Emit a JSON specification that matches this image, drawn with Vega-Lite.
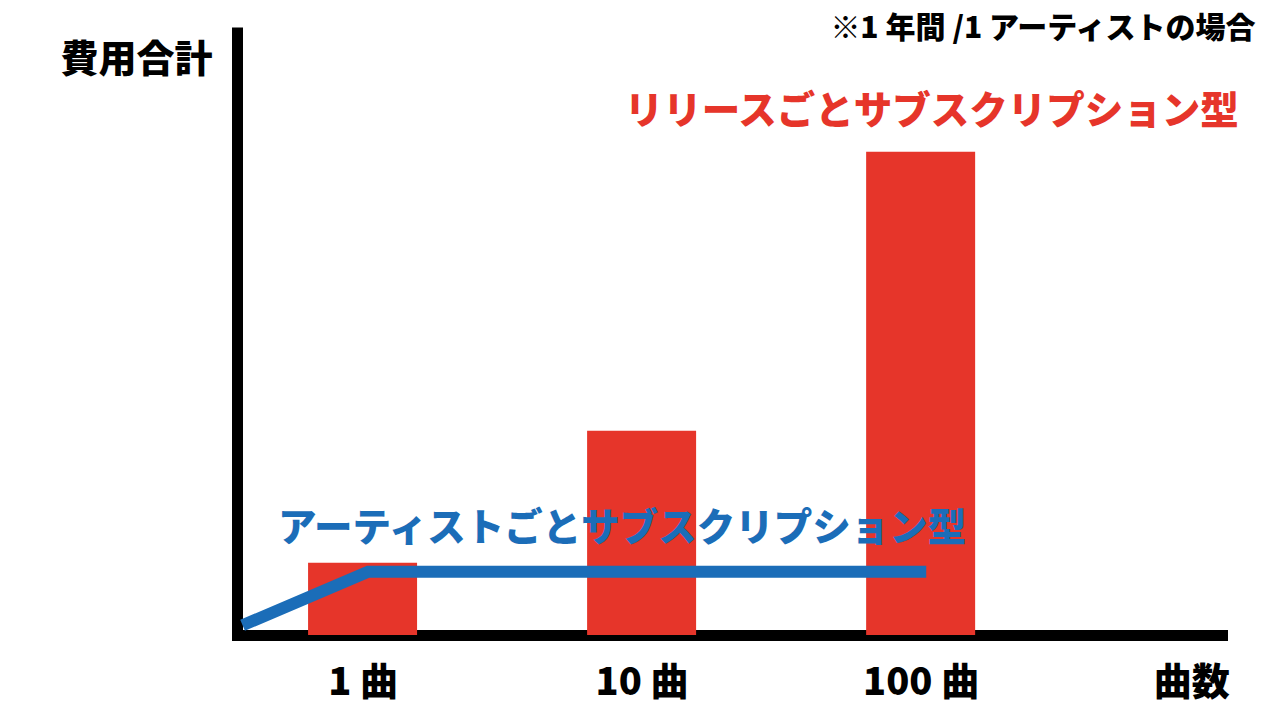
{
  "$schema": "https://vega.github.io/schema/vega-lite/v6.json",
  "width": 985,
  "height": 608,
  "autosize": {"type": "none"},
  "padding": {"left": 237, "top": 27, "right": 58, "bottom": 85},
  "background": "white",
  "config": {
    "view": {"stroke": null},
    "font": "Noto Sans CJK JP",
    "axis": {
      "labelFont": "Noto Sans CJK JP",
      "titleFont": "Noto Sans CJK JP",
      "domainColor": "black",
      "domainWidth": 11,
      "ticks": false,
      "tickSize": 0,
      "grid": false,
      "zindex": 1
    }
  },
  "datasets": {
    "bars": [
      {"idx": 1, "songs": "1 曲", "cost": 11.9},
      {"idx": 2, "songs": "10 曲", "cost": 33.6},
      {"idx": 3, "songs": "100 曲", "cost": 79.5}
    ],
    "artist": [
      {"idx": 0.57, "cost": 1.6},
      {"idx": 1.02, "cost": 10.4},
      {"idx": 3.02, "cost": 10.4}
    ],
    "notes": [
      {"idx": 3.04, "cost": 86.1, "label": "リリースごとサブスクリプション型", "kind": "release"},
      {"idx": 1.93, "cost": 17.5, "label": "アーティストごとサブスクリプション型", "kind": "artist"}
    ]
  },
  "layer": [
    {
      "data": {"name": "bars"},
      "mark": {"type": "bar", "width": 109, "color": "#E6352A"},
      "encoding": {
        "x": {
          "field": "idx",
          "type": "quantitative",
          "scale": {"domain": [0.55, 4.08], "nice": false, "zero": false, "padding": 0},
          "axis": {
            "title": null,
            "values": [1, 2, 3, 3.97],
            "labelExpr": "datum.value == 1 ? '1 曲' : datum.value == 2 ? '10 曲' : datum.value == 3 ? '100 曲' : '曲数'",
            "labelFontSize": 38,
            "labelFontWeight": 900,
            "labelColor": "black",
            "labelBaseline": "middle",
            "labelPadding": 48,
            "labelOverlap": false,
            "labelFlush": false,
            "labelBound": false,
            "domainCap": "square"
          }
        },
        "y": {
          "field": "cost",
          "type": "quantitative",
          "scale": {"domain": [0, 100], "nice": false, "padding": 0},
          "axis": {
            "title": "費用合計",
            "labels": false,
            "titleAngle": 0,
            "titleX": -101,
            "titleY": 33,
            "titleAlign": "center",
            "titleBaseline": "middle",
            "titleFontSize": 38,
            "titleFontWeight": 900,
            "titleColor": "black",
            "domainCap": "butt"
          }
        }
      }
    },
    {
      "data": {"name": "artist"},
      "mark": {"type": "line", "color": "#1B6DB8", "strokeWidth": 12, "strokeCap": "butt", "strokeJoin": "miter"},
      "encoding": {
        "x": {"field": "idx", "type": "quantitative"},
        "y": {"field": "cost", "type": "quantitative"}
      }
    },
    {
      "data": {"name": "notes"},
      "mark": {"type": "text", "fontSize": 38.5, "fontWeight": 900, "baseline": "middle", "align": "center"},
      "encoding": {
        "x": {"field": "idx", "type": "quantitative"},
        "y": {"field": "cost", "type": "quantitative"},
        "text": {"field": "label"},
        "color": {
          "field": "kind",
          "type": "nominal",
          "scale": {"domain": ["release", "artist"], "range": ["#E6352A", "#1B6DB8"]},
          "legend": null
        }
      }
    },
    {
      "data": {"values": [{"idx": 4.2, "cost": 99.6, "label": "※1 年間 /1 アーティストの場合"}]},
      "mark": {"type": "text", "fontSize": 30, "fontWeight": 900, "baseline": "middle", "align": "right", "color": "black"},
      "encoding": {
        "x": {"field": "idx", "type": "quantitative"},
        "y": {"field": "cost", "type": "quantitative"},
        "text": {"field": "label"}
      }
    }
  ]
}
